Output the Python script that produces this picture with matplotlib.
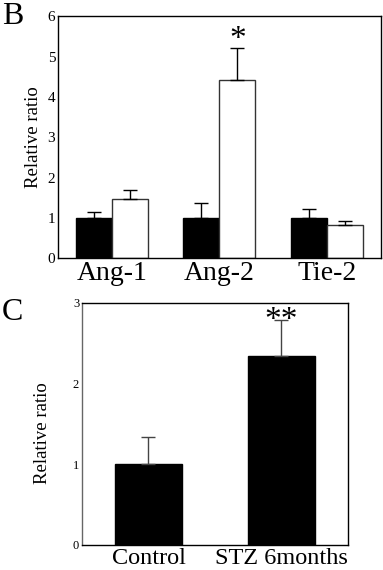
import numpy as np
import matplotlib
matplotlib.use('Agg')
import matplotlib.pyplot as plt

plt.rcParams['font.family'] = ['Liberation Serif', 'DejaVu Serif']

# Panel B data
genes = ['Ang-1', 'Ang-2', 'Tie-2']
control_vals = [1.0, 1.0, 1.0]
control_err = [0.14, 0.38, 0.21]
stz_vals = [1.46, 4.43, 0.82]
stz_err = [0.23, 0.79, 0.10]
b_yticks = [0, 1, 2, 3, 4, 5, 6]

# Panel C data
groups = ['Control', 'STZ 6months']
c_vals = [1.0, 2.34]
c_err = [0.34, 0.44]
c_yticks = [0, 1, 2, 3]


def style_axes(ax, tick_size):
    for s in ax.spines.values():
        s.set_linewidth(1.0)
        s.set_color('black')
    ax.tick_params(axis='both', length=0, pad=2)
    ax.tick_params(axis='y', labelsize=tick_size)


fig = plt.figure(figsize=(3.83, 5.70), dpi=100)

# ---- Panel B ----
axb = fig.add_axes([0.1514, 0.547, 0.843, 0.4246])
x = np.arange(len(genes))
w = 0.335
axb.bar(x - w / 2, control_vals, w, color='black', edgecolor='black', linewidth=1.0,
        yerr=[np.zeros(3), control_err], error_kw=dict(ecolor='black', elinewidth=1.0, capsize=5, capthick=1.0))
axb.bar(x + w / 2, stz_vals, w, color='white', edgecolor='#333333', linewidth=1.0,
        yerr=[np.zeros(3), stz_err], error_kw=dict(ecolor='black', elinewidth=1.0, capsize=5, capthick=1.0))
axb.set_xlim(-0.5, 2.5)
axb.set_ylim(0, 6)
axb.set_yticks(b_yticks)
axb.set_xticks(x)
axb.set_xticklabels(genes, fontsize=20)
axb.set_ylabel('Relative ratio', fontsize=13.5, labelpad=4)
style_axes(axb, 11)
axb.text(1 + w / 2, stz_vals[1] + stz_err[1] + 0.2, '*', ha='center', va='center', fontsize=24)
fig.text(0.005, 0.997, 'B', ha='left', va='top', fontsize=23)

# ---- Panel C ----
axc = fig.add_axes([0.214, 0.0439, 0.6945, 0.425])
xc = np.arange(len(groups))
axc.bar(xc, c_vals, 0.506, color='black', edgecolor='black', linewidth=1.0,
        yerr=[np.zeros(2), c_err], error_kw=dict(ecolor='#444444', elinewidth=1.0, capsize=5, capthick=1.0))
axc.set_xlim(-0.5, 1.5)
axc.set_ylim(0, 3)
axc.set_yticks(c_yticks)
axc.set_xticks(xc)
axc.set_xticklabels(groups, fontsize=17.5)
axc.set_ylabel('Relative ratio', fontsize=13.5, labelpad=7)
axc.yaxis.set_label_coords(-0.115, 0.46)
style_axes(axc, 9)
axc.spines['left'].set_color('#666666')
axc.text(1, c_vals[1] + c_err[1] - 0.19, '**', ha='center', va='bottom', fontsize=24)
fig.text(0.005, 0.478, 'C', ha='left', va='top', fontsize=23)

fig.savefig('out.png', dpi=100)
